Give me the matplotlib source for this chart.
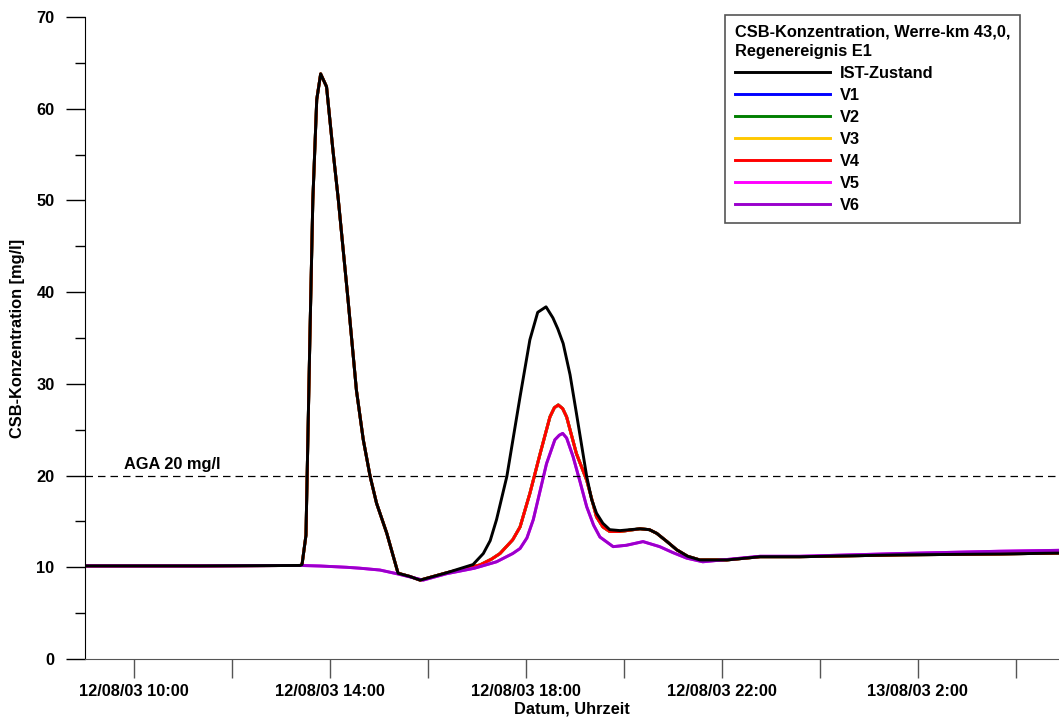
import numpy as np
import pandas as pd
import matplotlib
matplotlib.use("Agg")
import matplotlib.pyplot as plt
import matplotlib.dates as mdates
from matplotlib.ticker import FuncFormatter, MultipleLocator

plt.rcParams['font.family'] = ['Liberation Sans', 'DejaVu Sans']
plt.rcParams['font.weight'] = 'bold'

# hours after 12/08/03 00:00
ist_h = [9.0, 11.35, 13.39, 13.43, 13.51, 13.59, 13.65, 13.73, 13.81, 13.93, 14.06,
         14.17, 14.37, 14.54, 14.68, 14.82, 14.95, 15.16, 15.39, 15.63, 15.84,
         16.38, 16.92, 17.13, 17.27, 17.40, 17.61, 17.88, 18.08, 18.24, 18.41, 18.55,
         18.65, 18.76, 18.90, 19.03, 19.24, 19.34, 19.44, 19.57, 19.71, 19.92, 20.33,
         20.52, 20.67, 20.88, 21.08, 21.30, 21.55, 22.10, 22.78, 23.59, 25.63, 27.67, 28.88]
ist_v = [10.15, 10.15, 10.2, 10.3, 13.5, 35.0, 50.0, 61.0, 63.8, 62.4, 55.5,
         50.1, 39.1, 29.3, 23.9, 19.9, 17.0, 13.7, 9.35, 9.0, 8.6,
         9.4, 10.3, 11.5, 12.9, 15.2, 19.9, 28.6, 34.8, 37.8, 38.4, 37.2,
         36.0, 34.4, 31.0, 26.8, 19.9, 17.4, 15.9, 14.8, 14.1, 14.0, 14.2,
         14.1, 13.7, 12.8, 11.9, 11.2, 10.8, 10.8, 11.15, 11.15, 11.35, 11.45, 11.55]

# V1-V4 follow IST up to the trough, then a lower second peak
v14_h = ist_h[:22] + [17.06, 17.30, 17.47, 17.73, 17.88, 18.08, 18.29, 18.49, 18.58,
                      18.66, 18.75, 18.83, 19.03, 19.24, 19.44, 19.57, 19.71, 19.92] + ist_h[42:]
v14_v = ist_v[:22] + [10.25, 10.9, 11.5, 13.0, 14.4, 18.05, 22.4, 26.4, 27.4,
                      27.7, 27.3, 26.4, 22.4, 19.5, 15.5, 14.4, 13.9, 13.9] + ist_v[42:]

v56_h = [9.0, 11.35, 13.39, 13.80, 14.34, 14.61, 15.02, 15.39, 15.90, 16.38, 16.95, 17.40,
         17.73, 17.88, 18.02, 18.15, 18.42, 18.59, 18.68, 18.75, 18.83, 18.96, 19.10,
         19.24, 19.38, 19.51, 19.78, 20.05, 20.39, 20.73, 21.00, 21.28, 21.61, 22.20,
         22.78, 23.59, 25.63, 27.67, 28.88]
v56_v = [10.15, 10.15, 10.2, 10.14, 10.0, 9.9, 9.7, 9.27, 8.6, 9.3, 9.9, 10.6,
         11.5, 12.05, 13.2, 15.2, 21.3, 23.9, 24.4, 24.6, 24.1, 22.1, 19.4,
         16.6, 14.6, 13.3, 12.25, 12.4, 12.8, 12.25, 11.6, 11.0, 10.6, 10.9,
         11.2, 11.2, 11.5, 11.75, 11.85]

series_names = ['V1', 'V2', 'V3', 'V4', 'V5', 'V6']
series_colors = ['#0000ff', '#007f00', '#ffc800', '#ff0000', '#ff00ff', '#9900cc']
series_data = [(v14_h, v14_v)] * 4 + [(v56_h, v56_v)] * 2

base = pd.Timestamp('2003-08-12')


def to_time(hours):
    return base + pd.to_timedelta(np.asarray(hours), unit='h')


fig = plt.figure(figsize=(10.59, 7.24), dpi=100)
ax = fig.add_axes([85 / 1059, 65 / 724, 974 / 1059, 642 / 724])

handles = []
for name, col, (h, v) in zip(series_names, series_colors, series_data):
    ln, = ax.plot(to_time(h), v, color=col, lw=2.1, label=name)
    handles.append(ln)
ist_line, = ax.plot(to_time(ist_h), ist_v, color='black', lw=2.1, label='IST-Zustand')

ax.axhline(20, color='black', lw=0.9, ls=(0, (6, 4)))
ax.text(to_time([9.8])[0], 20.4, 'AGA 20 mg/l', fontsize=11.8, fontweight='bold',
        va='bottom', ha='left')

ax.set_xlim(to_time([9.0])[0], to_time([28.88])[0])
ax.set_ylim(0, 70)

ax.yaxis.set_major_locator(MultipleLocator(10))
ax.yaxis.set_minor_locator(MultipleLocator(5))
ax.tick_params(axis='y', which='major', length=14, width=1, direction='out',
               pad=8, labelsize=11.8)
ax.tick_params(axis='y', which='minor', length=7, width=1, direction='out')

ax.xaxis.set_major_locator(mdates.HourLocator(byhour=range(0, 24, 2)))


def xfmt(val, pos):
    t = mdates.num2date(val)
    if t.hour % 4 != 2:
        return ''
    return t.strftime('%d/%m/%y ') + f'{t.hour}:{t.minute:02d}'


ax.xaxis.set_major_formatter(FuncFormatter(xfmt))
ax.tick_params(axis='x', which='major', length=14, width=1, color='#555555',
               direction='out', pad=4, labelsize=11.8)

for lab in ax.get_xticklabels() + ax.get_yticklabels():
    lab.set_fontweight('bold')

ax.spines['top'].set_visible(False)
ax.spines['right'].set_visible(False)
ax.spines['bottom'].set_color('#555555')

ax.set_xlabel('Datum, Uhrzeit', fontsize=11.8, fontweight='bold', labelpad=2)
ax.set_ylabel('CSB-Konzentration [mg/l]', fontsize=11.8, fontweight='bold', labelpad=8)

leg = ax.legend([ist_line] + handles, ['IST-Zustand'] + series_names,
                title='CSB-Konzentration, Werre-km 43,0,\nRegenereignis E1',
                loc='upper right', bbox_to_anchor=(0.96, 1.003), borderaxespad=0,
                fancybox=False, edgecolor='#555555', framealpha=1,
                handlelength=5.8, handletextpad=0.6, labelspacing=0.43,
                borderpad=0.6, alignment='left',
                prop={'weight': 'bold', 'size': 11.8},
                title_fontproperties={'weight': 'bold', 'size': 11.8})
leg.get_frame().set_linewidth(1.2)
leg.get_title().set_linespacing(1.3)

fig.savefig('out.png', dpi=100)
